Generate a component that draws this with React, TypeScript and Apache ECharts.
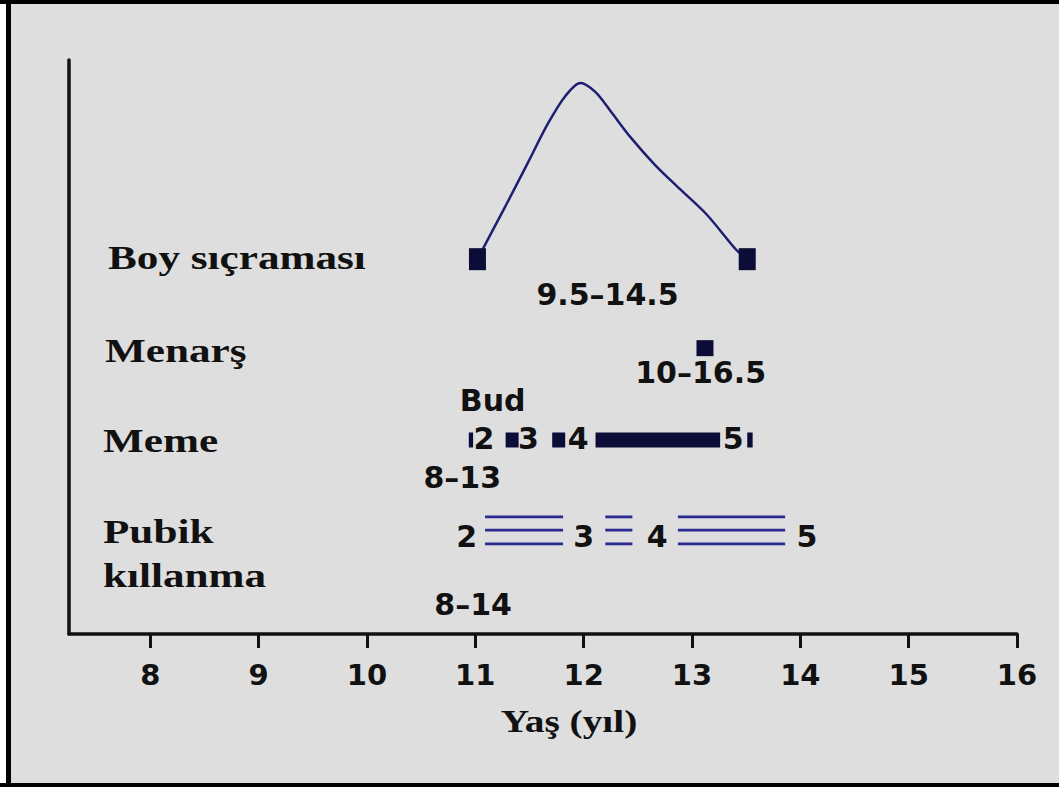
import React, { useEffect, useRef } from "react";
import * as echarts from "echarts";

// Age axis (years)
const xMin = 7.25;
const xMax = 16;
const xTicks = [8, 9, 10, 11, 12, 13, 14, 15, 16];

// Row heights on the (hidden) vertical scale 0..100
const boyRow = 65.3;
const menarsRow = 49.8;
const memeRow = 33.8;
const pubikLineRows = [20.4, 18.1, 15.7];

// Growth spurt curve [age, height]
const growthCurve = [
  [11.02, 65.3],
  [11.28, 74.6],
  [11.48, 81.9],
  [11.67, 88.9],
  [11.83, 93.7],
  [11.97, 96.0],
  [12.11, 94.4],
  [12.26, 90.8],
  [12.43, 86.6],
  [12.66, 81.7],
  [12.89, 77.5],
  [13.14, 73.0],
  [13.41, 66.9],
  [13.51, 65.3],
];
const boySpurtEnds = [11.02, 13.51];
const menarcheAt = 13.12;

// Breast development stages: [start age, end age]
const memeMarks = [
  [10.94, 10.98],
  [11.28, 11.4],
  [11.71, 11.83],
  [12.11, 13.26],
  [13.51, 13.56],
];
const memeStageNumbers = ["2", "3", "4", "5"];
const memeStageX = [11.08, 11.49, 11.95, 13.38];
const memeStageY = 34.0;

// Pubic hair stages: [start age, end age]
const pubikSpans = [
  [11.09, 11.81],
  [12.2, 12.45],
  [12.87, 13.86],
];
const pubikStageNumbers = ["2", "3", "4", "5"];
const pubikStageX = [10.92, 12.0, 12.68, 14.06];
const pubikStageY = 16.9;

// Age range notes
const rangeTexts = ["9.5–14.5", "10–16.5", "8–13", "8–14"];
const rangeX = [12.22, 13.08, 10.88, 10.98];
const rangeY = [59.1, 45.6, 27.2, 5.2];
const budText = "Bud";
const budX = 11.16;
const budY = 40.6;

const rowTitles = ["Boy sıçraması", "Menarş", "Meme", "Pubik", "kıllanma"];
const axisTitle = "Yaş (yıl)";

const ink = "#111111";
const navy = "#0c0c38";
const sansFont = 'bold 30px "DejaVu Sans"';
const serifFont = 'bold 34px "Liberation Serif"';

type LabelItem = { x: number; y: number; text: string };

const labelItems: LabelItem[] = [
  ...memeStageNumbers.map((t, i) => ({ x: memeStageX[i], y: memeStageY, text: t })),
  ...pubikStageNumbers.map((t, i) => ({ x: pubikStageX[i], y: pubikStageY, text: t })),
  ...rangeTexts.map((t, i) => ({ x: rangeX[i], y: rangeY[i], text: t })),
  { x: budX, y: budY, text: budText },
];

function buildOption(): any {
  const rowTitleLeft = [108, 105, 103, 103, 103];
  const rowTitleMid = [257, 350, 440, 531, 575];

  return {
    animation: false,
    backgroundColor: "#dedede",
    grid: { left: 69, right: 42, top: 60, bottom: 153 },
    xAxis: {
      type: "value",
      min: xMin,
      max: xMax,
      axisLine: { show: true, onZero: false, lineStyle: { color: ink, width: 3.5 } },
      axisTick: {
        show: true,
        inside: false,
        length: 14,
        customValues: xTicks,
        lineStyle: { color: ink, width: 3 },
      },
      axisLabel: {
        show: true,
        customValues: xTicks,
        margin: 26,
        fontFamily: "DejaVu Sans",
        fontWeight: "bold",
        fontSize: 29,
        color: ink,
      },
      splitLine: { show: false },
    },
    yAxis: {
      type: "value",
      min: 0,
      max: 100,
      axisLine: { show: true, onZero: false, lineStyle: { color: ink, width: 3.5 } },
      axisTick: { show: false },
      axisLabel: { show: false },
      splitLine: { show: false },
    },
    graphic: [
      { type: "rect", silent: true, shape: { x: 0, y: 4, width: 6, height: 779 }, style: { fill: "#ffffff" } },
      { type: "rect", silent: true, shape: { x: 0, y: 0, width: 1059, height: 4 }, style: { fill: "#000000" } },
      { type: "rect", silent: true, shape: { x: 6, y: 0, width: 5, height: 787 }, style: { fill: "#000000" } },
      { type: "rect", silent: true, shape: { x: 0, y: 783, width: 1059, height: 4 }, style: { fill: "#000000" } },
      ...rowTitles.map((t, i) => ({
        type: "text",
        silent: true,
        x: rowTitleLeft[i],
        y: rowTitleMid[i],
        scaleX: 1.27,
        style: {
          text: t,
          font: serifFont,
          fill: ink,
          align: "left",
          verticalAlign: "middle",
        },
      })),
      {
        type: "text",
        silent: true,
        x: 569,
        y: 722,
        scaleX: 1.27,
        style: {
          text: axisTitle,
          font: 'bold 31px "Liberation Serif"',
          fill: ink,
          align: "center",
          verticalAlign: "middle",
        },
      },
    ],
    series: [
      {
        name: "Boy sıçraması",
        type: "line",
        data: growthCurve,
        smooth: 0.3,
        symbol: "none",
        lineStyle: { color: "#1f1f72", width: 2.5 },
        z: 2,
      },
      {
        name: "Boy sıçraması uçları",
        type: "scatter",
        data: boySpurtEnds.map((x) => [x, boyRow]),
        symbol: "rect",
        symbolSize: [17, 22],
        itemStyle: { color: navy, opacity: 1 },
        z: 3,
      },
      {
        name: "Menarş",
        type: "scatter",
        data: [[menarcheAt, menarsRow]],
        symbol: "rect",
        symbolSize: [17, 16],
        itemStyle: { color: navy, opacity: 1 },
        z: 3,
      },
      {
        name: "Meme",
        type: "custom",
        data: memeMarks.map(([a, b]) => [a, b, memeRow]),
        renderItem: (_params: any, api: any) => {
          const s = api.coord([api.value(0), api.value(2)]);
          const e = api.coord([api.value(1), api.value(2)]);
          return {
            type: "rect",
            shape: { x: s[0], y: s[1] - 7.5, width: e[0] - s[0], height: 15 },
            style: { fill: navy },
          };
        },
        z: 3,
      },
      {
        name: "Pubik kıllanma",
        type: "custom",
        data: pubikSpans.flatMap(([a, b]) => pubikLineRows.map((r) => [a, b, r])),
        renderItem: (_params: any, api: any) => {
          const s = api.coord([api.value(0), api.value(2)]);
          const e = api.coord([api.value(1), api.value(2)]);
          return {
            type: "line",
            shape: { x1: s[0], y1: s[1], x2: e[0], y2: e[1] },
            style: { stroke: "#2a2a90", lineWidth: 2.8 },
          };
        },
        z: 3,
      },
      {
        name: "Etiketler",
        type: "custom",
        clip: false,
        data: labelItems.map((l, i) => [l.x, l.y, i]),
        renderItem: (params: any, api: any) => {
          const p = api.coord([api.value(0), api.value(1)]);
          return {
            type: "text",
            x: p[0],
            y: p[1],
            style: {
              text: labelItems[params.dataIndex].text,
              font: sansFont,
              fill: ink,
              align: "center",
              verticalAlign: "middle",
            },
          };
        },
        z: 4,
      },
    ],
  };
}

export default function App() {
  const ref = useRef<HTMLDivElement>(null);

  useEffect(() => {
    if (!ref.current) return;
    const chart = echarts.init(ref.current, null, { renderer: "svg" });
    chart.setOption(buildOption());
    return () => {
      chart.dispose();
    };
  }, []);

  return (
    <div
      ref={ref}
      style={{ position: "absolute", left: 0, top: 0, width: 1059, height: 787 }}
    />
  );
}
